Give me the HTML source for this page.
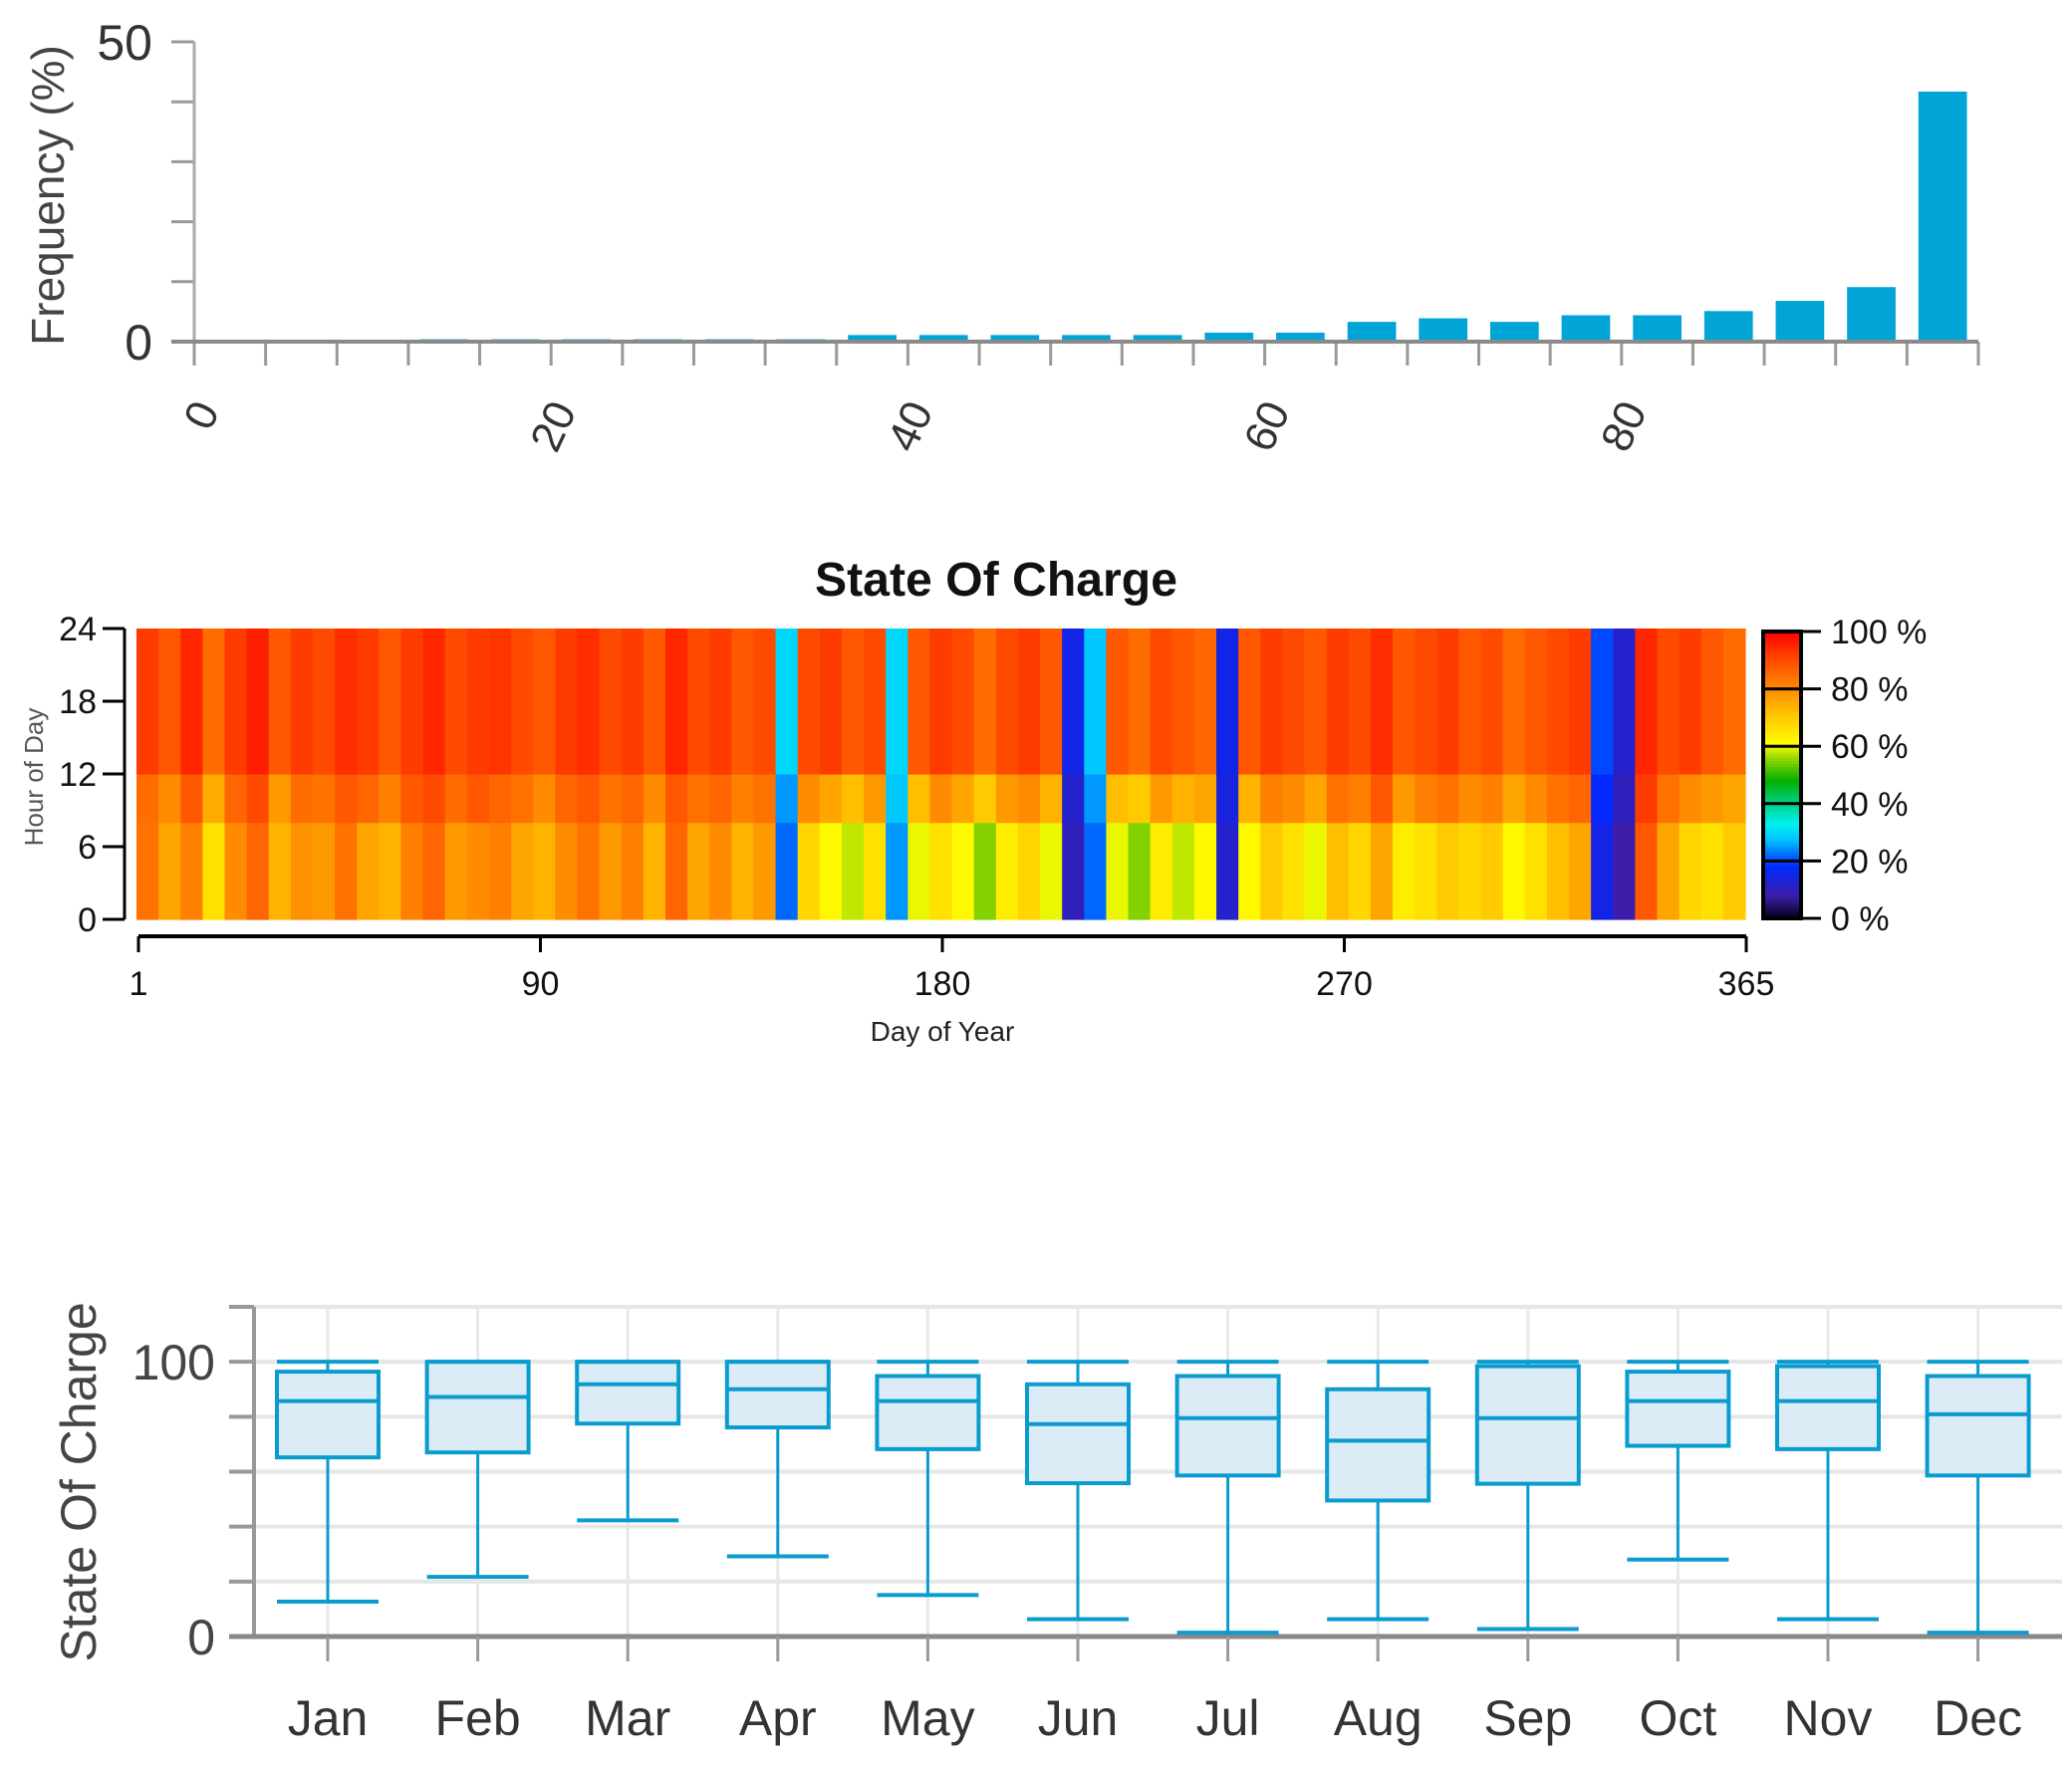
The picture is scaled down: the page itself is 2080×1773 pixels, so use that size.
<!DOCTYPE html>
<html><head><meta charset="utf-8"><style>
html,body{margin:0;padding:0;background:#fff;}
svg{display:block;font-family:"Liberation Sans",sans-serif;}
</style></head><body>
<svg id="root" width="2080" height="1773" viewBox="0 0 2080 1773" xmlns="http://www.w3.org/2000/svg">
<g id="hist"></g>
<g id="heat"></g>
<g id="box"></g>
</svg>
<script>
// ---------- Histogram data ----------
const histBinStarts = [0,4,8,12,16,20,24,28,32,36,40,44,48,52,56,60,64,68,72,76,80,84,88,92,96];
const histFreq = [0,0,0,0.4,0.4,0.4,0.4,0.4,0.4,1.1,1.1,1.1,1.1,1.1,1.5,1.5,3.3,3.9,3.3,4.4,4.4,5.1,6.8,9.1,41.7];
const histXTicks = [0,20,40,60,80];
const histYTicks = [0,10,20,30,40,50];
const histYLabels = [0,50];

// ---------- Heatmap data (5-day columns, 3 hour bands) ----------
const heatHourBands = [0,8,12,24];
const heatBottom = [84,76,82,66,80,86,74,79,78,84,76,74,82,86,78,80,82,76,74,80,84,78,82,74,86,76,80,74,78,22,68,62,58,66,25,60,66,62,55,64,68,60,10,22,60,55,64,58,62,12,62,70,66,60,72,68,76,64,66,70,68,70,62,66,72,76,15,8,88,76,68,66,70];
const heatMid = [85,80,88,75,86,90,78,85,84,88,86,82,88,90,85,88,86,84,80,86,88,84,86,80,88,84,86,82,84,25,80,76,72,78,28,72,80,76,70,78,80,74,12,25,72,70,78,74,76,14,74,82,80,76,84,82,88,78,82,84,80,82,76,80,84,86,18,10,92,84,80,78,76];
const heatTop = [92,88,95,85,92,96,88,92,90,94,92,88,92,95,90,92,93,90,88,92,94,90,92,88,95,90,92,88,90,30,90,92,88,90,30,88,92,90,85,90,92,88,15,28,88,85,90,88,86,15,88,92,90,88,92,90,94,88,90,92,88,90,85,88,90,92,20,12,95,90,92,88,85];
const heatXTicks = [1,90,180,270,365];
const heatYTicks = [0,6,12,18,24];
const colorbarTicks = [0,20,40,60,80,100];

// ---------- Boxplot data ----------
const months = ["Jan","Feb","Mar","Apr","May","Jun","Jul","Aug","Sep","Oct","Nov","Dec"];
const boxMax = [100,100,100,100,100,100,100,100,100,100,100,100];
const boxQ3 = [96.4,100,100,100,94.8,91.8,94.8,90,98.4,96.4,98.4,94.8];
const boxMed = [85.7,87.2,91.8,90,85.7,77.3,79.5,71.3,79.5,85.7,85.7,80.9];
const boxQ1 = [65.2,67,77.5,76.1,68.2,55.8,58.6,49.5,55.6,69.4,68.2,58.6];
const boxMin = [12.7,21.7,42.3,29.2,15.1,6.3,1.4,6.3,2.7,28,6.3,1.4];
const boxYTicks = [0,20,40,60,80,100,120];
const boxYLabels = [0,100];

const NS="http://www.w3.org/2000/svg";
function mk(parent,tag,attrs,text){const e=document.createElementNS(NS,tag);for(const k in attrs)e.setAttribute(k,attrs[k]);if(text!==undefined)e.textContent=text;parent.appendChild(e);return e;}

// ===== Histogram =====
(function(){
const g=document.getElementById('hist');
const X0=195,X1=1986,Y0=343,Y1=42;
const sx=v=>X0+(v/100)*(X1-X0);
const sy=v=>Y0-(v/50)*(Y0-Y1);
const bw=sx(4)-sx(0);
histYTicks.forEach(t=>{
  const l=mk(g,'line',{x1:172,x2:X0,y1:sy(t),y2:sy(t),stroke:'#999','stroke-width':3});
  
  
});
histBinStarts.forEach((b,i)=>{
  const v=histFreq[i];
  if(v<=0)return;
  const r=mk(g,'rect',{x:sx(b)+bw*0.16,y:sy(v),width:bw*0.68,height:Y0-sy(v),fill:'#00a4d6'});
  
  
});
histBinStarts.concat([100]).forEach(b=>{
  const l=mk(g,'line',{x1:sx(b),x2:sx(b),y1:Y0,y2:367,stroke:'#999','stroke-width':3});
  
  
});
const ax=mk(g,'line',{x1:X0,x2:X0,y1:Y1,y2:Y0+2,stroke:'#aaa','stroke-width':3});


const bx=mk(g,'line',{x1:172,x2:X1,y1:Y0,y2:Y0,stroke:'#8a8a8a','stroke-width':4});


histYLabels.forEach(t=>{
  const tx=mk(g,'text',{x:153,y:sy(t)+18,'text-anchor':'end','font-size':50,fill:'#333'},String(t));
  
  
});
histXTicks.forEach(t=>{
  const x=sx(t)+26,y=412;
  const tx=mk(g,'text',{x:x,y:y,'text-anchor':'end','font-size':44,fill:'#333',transform:`rotate(-65 ${x} ${y})`},String(t));
  
  
});
const tt=mk(g,'text',{x:0,y:0,'text-anchor':'middle','font-size':46,fill:'#444',transform:'translate(64 196) rotate(-90)'},'Frequency (%)');


})();

// ===== Heatmap =====
const cstops=[[0,[0,0,20]],[8,[60,30,170]],[18,[0,40,255]],[28,[0,200,255]],[33,[0,240,240]],[40,[0,210,140]],[48,[0,176,0]],[56,[150,215,0]],[61,[255,255,0]],[72,[255,190,0]],[80,[255,140,0]],[90,[255,75,0]],[100,[255,0,0]]];
function cmap(v){v=Math.max(0,Math.min(100,v));for(let i=1;i<cstops.length;i++){if(v<=cstops[i][0]){const a=cstops[i-1],b=cstops[i],t=(v-a[0])/(b[0]-a[0]);const c=a[1].map((x,j)=>Math.round(x+(b[1][j]-x)*t));return `rgb(${c[0]},${c[1]},${c[2]})`;}}return 'rgb(255,0,0)';}
(function(){
const g=document.getElementById('heat');
const X0=137,X1=1752,Y0=923,Y1=631;
const AX0=139,AX1=1753;
const syh=h=>Y0-(h/24)*(Y0-Y1);
const t=mk(g,'text',{x:1000,y:598,'text-anchor':'middle','font-size':48,'font-weight':'bold',fill:'#111',textLength:364,lengthAdjust:'spacingAndGlyphs'},'State Of Charge');


const n=heatTop.length;
const colW=(X1-X0)/n;
const bands=[heatBottom,heatMid,heatTop];
for(let i=0;i<n;i++){
  for(let b=0;b<3;b++){
    const r=mk(g,'rect',{x:X0+i*colW,y:syh(heatHourBands[b+1]),width:colW+0.6,height:syh(heatHourBands[b])-syh(heatHourBands[b+1])+0.6,fill:cmap(bands[b][i])});
    
    
  }
}
const ya=mk(g,'line',{x1:125,x2:125,y1:Y1,y2:Y0,stroke:'#000','stroke-width':3});


heatYTicks.forEach(h=>{
  const l=mk(g,'line',{x1:103,x2:125,y1:syh(h),y2:syh(h),stroke:'#000','stroke-width':3});
  
  
  const tx=mk(g,'text',{x:97,y:syh(h)+12,'text-anchor':'end','font-size':34,fill:'#111'},String(h));
  
  
});
const yt=mk(g,'text',{x:0,y:0,'text-anchor':'middle','font-size':26,fill:'#555',transform:'translate(43 780) rotate(-90)'},'Hour of Day');


const xa=mk(g,'line',{x1:AX0,x2:AX1,y1:940,y2:940,stroke:'#000','stroke-width':4});


heatXTicks.forEach((d,i)=>{
  const x=AX0+(i/(heatXTicks.length-1))*(AX1-AX0);
  const l=mk(g,'line',{x1:x,x2:x,y1:940,y2:956,stroke:'#000','stroke-width':3});
  
  
  const tx=mk(g,'text',{x:x,y:999,'text-anchor':'middle','font-size':34,fill:'#111'},String(d));
  
  
});
const xt=mk(g,'text',{x:946,y:1045,'text-anchor':'middle','font-size':28,fill:'#222'},'Day of Year');


// colorbar
const CX0=1770,CX1=1808,CY0=922,CY1=634;
const cy=v=>CY0-(v/100)*(CY0-CY1);
for(let v=0;v<100;v+=1){
  const r=mk(g,'rect',{x:CX0,y:cy(v+1),width:CX1-CX0,height:cy(v)-cy(v+1)+0.6,fill:cmap(v+0.5)});
  
  
}
const cb=mk(g,'rect',{x:CX0,y:CY1,width:CX1-CX0,height:CY0-CY1,fill:'none',stroke:'#000','stroke-width':4});


colorbarTicks.forEach(v=>{
  const l=mk(g,'line',{x1:CX0,x2:1828,y1:cy(v),y2:cy(v),stroke:'#000','stroke-width':3});
  
  
  const tx=mk(g,'text',{x:1838,y:cy(v)+12,'font-size':34,fill:'#111'},v+' %');
  
  
});
})();

// ===== Boxplot =====
(function(){
const g=document.getElementById('box');
const X0=255,X1=2070,Y0=1643,Y1=1312;
const sy=v=>Y0-(v/120)*(Y0-Y1);
const cx=i=>329+i*150.6;
const bw=102;
const title=mk(g,'text',{x:0,y:0,'text-anchor':'middle','font-size':50,fill:'#444',transform:'translate(96 1488) rotate(-90)'},'State Of Charge');


boxYTicks.forEach(t=>{
  const gl=mk(g,'line',{x1:X0,x2:X1,y1:sy(t),y2:sy(t),stroke:'#e6e6e6','stroke-width':4});
  
  
  const tk=mk(g,'line',{x1:230,x2:X0,y1:sy(t),y2:sy(t),stroke:'#999','stroke-width':4});
  
  
});
months.forEach((m,i)=>{
  const vl=mk(g,'line',{x1:cx(i),x2:cx(i),y1:Y1,y2:Y0,stroke:'#e8e8e8','stroke-width':3});
  
  
});
boxYLabels.forEach(t=>{
  const tx=mk(g,'text',{x:216,y:sy(t)+18,'text-anchor':'end','font-size':50,fill:'#444'},String(t));
  
  
});
const ya=mk(g,'line',{x1:X0,x2:X0,y1:Y1,y2:Y0,stroke:'#999','stroke-width':4});


const xa=mk(g,'line',{x1:230,x2:X1,y1:Y0,y2:Y0,stroke:'#888','stroke-width':5});


const C='#0a9ccf';
months.forEach((m,i)=>{
  const x=cx(i);
  const tk=mk(g,'line',{x1:x,x2:x,y1:Y0,y2:1668,stroke:'#999','stroke-width':3});
  
  
  const w=mk(g,'line',{x1:x,x2:x,y1:sy(boxMax[i]),y2:sy(boxMin[i]),stroke:C,'stroke-width':3});
  
  
  const r=mk(g,'rect',{x:x-bw/2,y:sy(boxQ3[i]),width:bw,height:sy(boxQ1[i])-sy(boxQ3[i]),fill:'#dbecf6',stroke:C,'stroke-width':4});
  
  
  const md=mk(g,'line',{x1:x-bw/2,x2:x+bw/2,y1:sy(boxMed[i]),y2:sy(boxMed[i]),stroke:C,'stroke-width':4});
  
  
  const cmx=mk(g,'line',{x1:x-bw/2,x2:x+bw/2,y1:sy(boxMax[i]),y2:sy(boxMax[i]),stroke:C,'stroke-width':4});
  
  
  const cmn=mk(g,'line',{x1:x-bw/2,x2:x+bw/2,y1:sy(boxMin[i]),y2:sy(boxMin[i]),stroke:C,'stroke-width':4});
  
  
  const lb=mk(g,'text',{x:x,y:1742,'text-anchor':'middle','font-size':50,fill:'#333'},m);
  
  
});
})();
</script>
</body></html>
